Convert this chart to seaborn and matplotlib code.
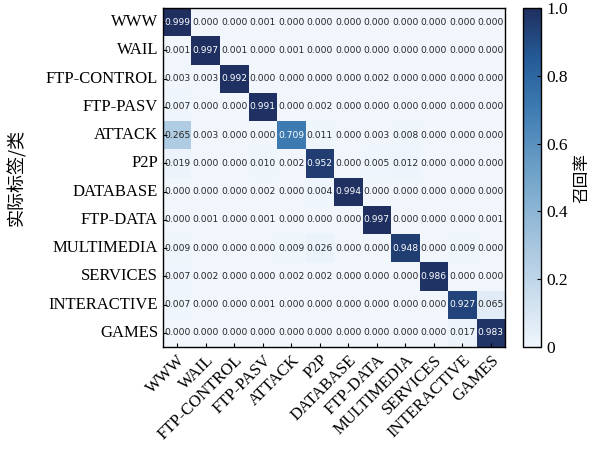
import numpy as np
import seaborn as sns
import matplotlib.pyplot as plt
from matplotlib.colors import LinearSegmentedColormap

classes = ['WWW', 'WAIL', 'FTP-CONTROL', 'FTP-PASV', 'ATTACK', 'P2P', 'DATABASE',
           'FTP-DATA', 'MULTIMEDIA', 'SERVICES', 'INTERACTIVE', 'GAMES']

# recall per true class (rows)
row_www = [0.999, 0.000, 0.000, 0.001, 0.000, 0.000, 0.000, 0.000, 0.000, 0.000, 0.000, 0.000]
row_wail = [0.001, 0.997, 0.001, 0.000, 0.001, 0.000, 0.000, 0.000, 0.000, 0.000, 0.000, 0.000]
row_ftp_control = [0.003, 0.003, 0.992, 0.000, 0.000, 0.000, 0.000, 0.002, 0.000, 0.000, 0.000, 0.000]
row_ftp_pasv = [0.007, 0.000, 0.000, 0.991, 0.000, 0.002, 0.000, 0.000, 0.000, 0.000, 0.000, 0.000]
row_attack = [0.265, 0.003, 0.000, 0.000, 0.709, 0.011, 0.000, 0.003, 0.008, 0.000, 0.000, 0.000]
row_p2p = [0.019, 0.000, 0.000, 0.010, 0.002, 0.952, 0.000, 0.005, 0.012, 0.000, 0.000, 0.000]
row_database = [0.000, 0.000, 0.000, 0.002, 0.000, 0.004, 0.994, 0.000, 0.000, 0.000, 0.000, 0.000]
row_ftp_data = [0.000, 0.001, 0.000, 0.001, 0.000, 0.000, 0.000, 0.997, 0.000, 0.000, 0.000, 0.001]
row_multimedia = [0.009, 0.000, 0.000, 0.000, 0.009, 0.026, 0.000, 0.000, 0.948, 0.000, 0.009, 0.000]
row_services = [0.007, 0.002, 0.000, 0.000, 0.002, 0.002, 0.000, 0.000, 0.000, 0.986, 0.000, 0.000]
row_interactive = [0.007, 0.000, 0.000, 0.001, 0.000, 0.000, 0.000, 0.000, 0.000, 0.000, 0.927, 0.065]
row_games = [0.000, 0.000, 0.000, 0.000, 0.000, 0.000, 0.000, 0.000, 0.000, 0.000, 0.017, 0.983]

cm = np.array([row_www, row_wail, row_ftp_control, row_ftp_pasv, row_attack, row_p2p,
               row_database, row_ftp_data, row_multimedia, row_services,
               row_interactive, row_games])

cmap = LinearSegmentedColormap.from_list(
    'recall', [(0.0, '#f0f6fc'), (0.25, '#b3cee4'), (0.5, '#74a5ca'),
               (0.7, '#3f7cb3'), (0.85, '#255c97'), (1.0, '#1f2f60')])

plt.rcParams['font.family'] = ['Liberation Serif', 'Noto Sans CJK SC']

fig = plt.figure(figsize=(5.97, 4.49), dpi=100)
ax = fig.add_axes([0.273, 0.227, 0.573, 0.755])
cax = fig.add_axes([0.876, 0.227, 0.031, 0.755])

sns.heatmap(cm, ax=ax, cbar_ax=cax, cmap=cmap, vmin=0, vmax=1,
            annot=True, fmt='.3f',
            annot_kws={'fontsize': 6.6, 'family': 'DejaVu Sans'},
            xticklabels=classes, yticklabels=classes)

for sp in ax.spines.values():
    sp.set_visible(True)
    sp.set_color('black')
    sp.set_linewidth(1.0)

ax.tick_params(axis='both', direction='in', length=3, labelsize=12)
ax.set_xticklabels(classes, rotation=45, ha='right', rotation_mode='anchor')
ax.set_yticklabels(classes, rotation=0)
ax.set_ylabel('实际标签/类', fontsize=13, family=['Noto Sans CJK SC'])
ax.yaxis.set_label_coords(-0.4, 0.5)

cbar = ax.collections[0].colorbar
cbar.outline.set_edgecolor('black')
cbar.outline.set_linewidth(1.0)
cbar.set_ticks([0, 0.2, 0.4, 0.6, 0.8, 1.0])
cbar.set_ticklabels(['0', '0.2', '0.4', '0.6', '0.8', '1.0'])
cax.tick_params(direction='in', length=3, labelsize=12.5)
cbar.set_label('召回率', fontsize=12, family=['Noto Sans CJK SC'])

fig.savefig('out.png', dpi=100)
